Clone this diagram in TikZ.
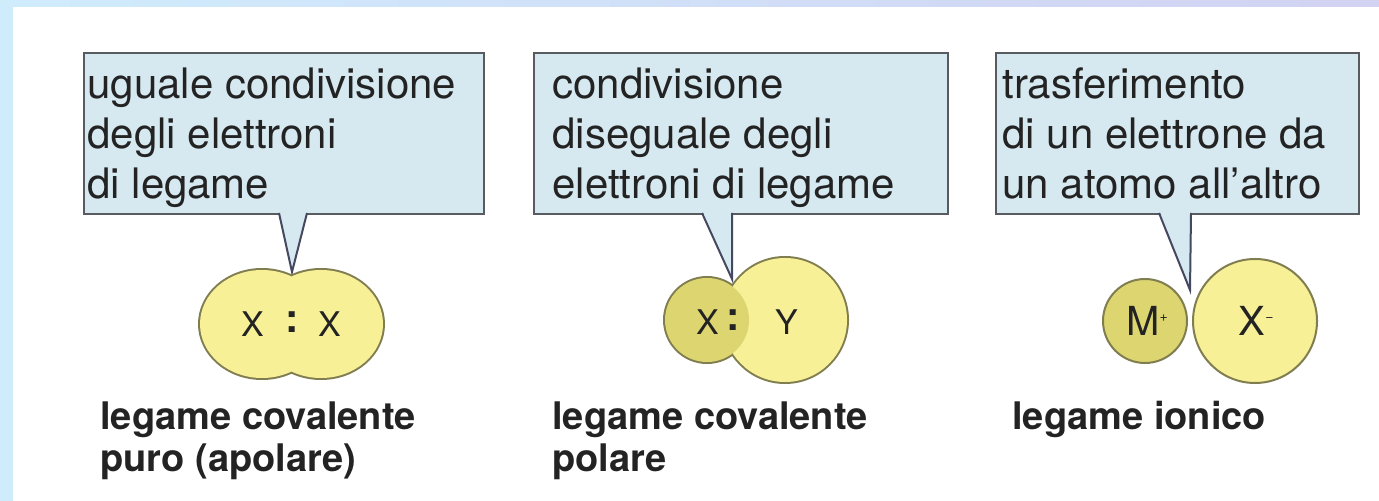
\documentclass[tikz,border=0pt]{standalone}
\usepackage{fontspec}
\setmainfont{TeX Gyre Heros}
\usepackage{tkz-euclide}

\definecolor{bandcyan}{RGB}{207,236,252}
\definecolor{bandlav}{RGB}{210,210,242}
\definecolor{boxfill}{RGB}{214,232,240}
\definecolor{boxedge}{RGB}{88,92,96}
\definecolor{tailedge}{RGB}{70,72,95}
\definecolor{atomlight}{RGB}{247,240,150}
\definecolor{atomdark}{RGB}{221,214,112}
\definecolor{atomline}{RGB}{128,126,80}
\definecolor{inkgray}{RGB}{35,35,35}

\begin{document}
\begin{tikzpicture}[x=0.5pt,y=-0.5pt,
    callbox/.style={rectangle,draw=boxedge,line width=1pt,fill=boxfill,
      anchor=north west,inner sep=0pt,minimum height=80.5pt},
    calltext/.style={anchor=north west,inner sep=0pt,align=left,
      text=inkgray,font=\fontsize{21}{25}\selectfont},
    bondlabel/.style={anchor=north west,inner sep=0pt,align=left,
      text=inkgray,font=\fontsize{19}{21}\selectfont\bfseries},
    atomtext/.style={inner sep=0pt,text=inkgray,font=\fontsize{17}{17}\selectfont},
    iontext/.style={inner sep=0pt,text=inkgray,font=\fontsize{20}{20}\selectfont},
    pairdots/.style={inner sep=0pt,text=inkgray,font=\fontsize{20}{20}\selectfont\bfseries},
    atomedge/.style={draw=atomline,line width=2pt},
  ]
    \useasboundingbox (0,0) rectangle (1379,501);
    \fill[white] (0,0) rectangle (1379,501);
    \shade[left color=bandcyan,right color=bandlav] (0,0) rectangle (1379,7);
    \fill[bandcyan] (0,0) rectangle (13,501);

    % points
    \tkzDefPoints{279/213/B_a,307/213/B_b,292/272/T_a,
      702/213/B_c,732/213/B_d,732/279/T_b,
      1159/213/B_e,1191/213/B_f,1190/290/T_c}
    \tkzDefPoints{262/324/A_l,321/324/A_r,
      707/320/P_x,785/320/P_y,
      1145/321/I_m,1255/321/I_x}

    % callouts
    \node[callbox,minimum width=200pt] (box1) at (83,52) {};
    \node[callbox,minimum width=207pt] (box2) at (533,52) {};
    \node[callbox,minimum width=181.5pt] (box3) at (995,52) {};
    \fill[boxfill] ([yshift=1.5pt]B_a) -- (T_a) -- ([yshift=1.5pt]B_b) -- cycle;
    \fill[boxfill] ([yshift=1.5pt]B_c) -- (T_b) -- ([yshift=1.5pt]B_d) -- cycle;
    \fill[boxfill] ([yshift=1.5pt]B_e) -- (T_c) -- ([yshift=1.5pt]B_f) -- cycle;
    \draw[tailedge,line width=1pt] (B_a) -- (T_a) -- (B_b);
    \draw[tailedge,line width=1pt] (B_c) -- (T_b) -- (B_d);
    \draw[tailedge,line width=1pt] (B_e) -- (T_c) -- (B_f);
    \node[calltext] (txt1) at ([shift={(4,15)}]box1.north west)
      {uguale condivisione\\degli elettroni\\di legame};
    \node[calltext] (txt2) at ([shift={(19,15)}]box2.north west)
      {condivisione\\diseguale degli\\elettroni di legame};
    \node[calltext] (txt3) at ([shift={(7,15)}]box3.north west)
      {trasferimento\\di un elettrone da\\un atomo all’altro};

    % covalente puro
    \draw[atomedge] (A_l) ellipse [x radius=62,y radius=54]
      (A_r) ellipse [x radius=62,y radius=54];
    \fill[atomlight] (A_l) ellipse [x radius=62,y radius=54]
      (A_r) ellipse [x radius=62,y radius=54];
    \node[atomtext] (x_a) at (253,324) {X};
    \node[pairdots] (dots_a) at (292,322) {:};
    \node[atomtext] (x_b) at (330,324) {X};

    % covalente polare
    \draw[atomedge] (P_y) circle [radius=62] (P_x) circle [radius=42];
    \fill[atomlight] (P_y) circle [radius=62];
    \fill[atomdark] (P_x) circle [radius=42];
    \node[atomtext] (x_p) at (708,322) {X};
    \node[pairdots] (dots_p) at (733,320) {:};
    \node[atomtext] (y_p) at (787,322) {Y};

    % ionico
    \draw[draw=atomline,line width=1pt,fill=atomdark] (I_m) circle [radius=42];
    \draw[draw=atomline,line width=1pt,fill=atomlight] (I_x) circle [radius=62];
    \node[iontext] (m_i) at (1147,321) {M\raisebox{7pt}{\fontsize{7}{7}\selectfont +}};
    \node[iontext] (x_i) at (1256,321) {X\raisebox{7pt}{\fontsize{7}{7}\selectfont −}};

    % bond names
    \node[bondlabel] (lab1) at (100,401) {legame covalente\\puro (apolare)};
    \node[bondlabel] (lab2) at (552,401) {legame covalente\\polare};
    \node[bondlabel] (lab3) at (1012,401) {legame ionico};
\end{tikzpicture}
\end{document}
